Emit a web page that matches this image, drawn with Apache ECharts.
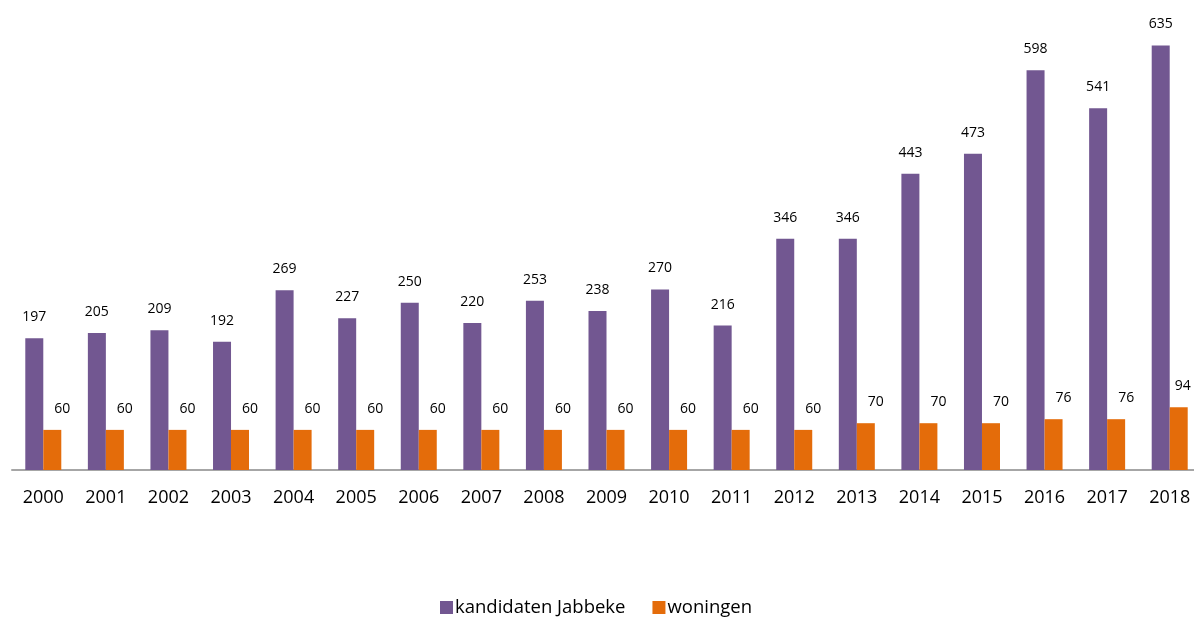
<!DOCTYPE html>
<html><head><meta charset="utf-8">
<script src="https://cdn.jsdelivr.net/npm/echarts@6/dist/echarts.min.js"></script>
<style>html,body{margin:0;padding:0;background:#fff;overflow:hidden}#c{width:1210px;height:617px}</style>
</head><body><div id="c"></div>
<script>
const years = ['2000','2001','2002','2003','2004','2005','2006','2007','2008','2009','2010','2011','2012','2013','2014','2015','2016','2017','2018'];
const kandidaten = [197,205,209,192,269,227,250,220,253,238,270,216,346,346,443,473,598,541,635];
const woningen = [60,60,60,60,60,60,60,60,60,60,60,60,60,70,70,70,76,76,94];
const seriesNames = ['kandidaten Jabbeke','woningen'];
const font = '"Open Sans", "Noto Sans", sans-serif';
const woningenData = woningen.map((v, i) => i === woningen.length - 1
  ? {value: v, label: {offset: [4, 0]}} : v);
const chart = echarts.init(document.getElementById('c'));
chart.setOption({
  animation:false,
  textStyle:{fontFamily:font},
  grid:{left:12, top:2, width:1189, bottom:147, containLabel:false},
  xAxis:{type:'category', data:years,
    axisLine:{lineStyle:{color:'#A6A6A6', width:2}},
    axisTick:{show:false},
    axisLabel:{fontSize:18, color:'#000', margin:19, fontFamily:font}},
  yAxis:{type:'value', min:0, max:700, show:false, splitLine:{show:false}},
  legend:{bottom:0, left:440, padding:0, itemWidth:13, itemHeight:13, itemGap:27, icon:'rect',
    textStyle:{fontSize:18.5, color:'#000', fontFamily:font, padding:[0,0,0,-3]}},
  series:[
    {name:seriesNames[0], type:'bar', data:kandidaten, barWidth:18, barGap:'0%',
     itemStyle:{color:'#725791'},
     label:{show:true, position:'top', distance:14, fontSize:14, color:'#000', fontFamily:font}},
    {name:seriesNames[1], type:'bar', data:woningenData, barWidth:18, barGap:'0%',
     itemStyle:{color:'#E46C0A'},
     label:{show:true, position:'top', distance:14, offset:[10,0], fontSize:14, color:'#000', fontFamily:font}}
  ]
});
</script></body></html>
